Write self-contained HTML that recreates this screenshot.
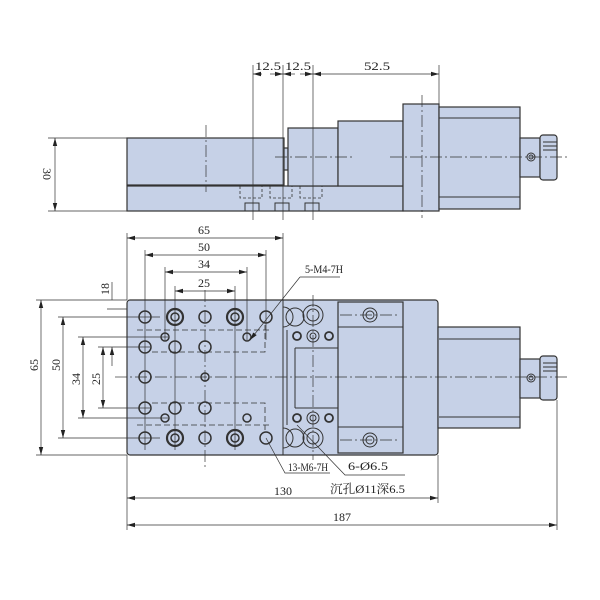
<!DOCTYPE html>
<html><head><meta charset="utf-8"><style>html,body{margin:0;padding:0;background:#fff}svg{display:block}</style></head><body>
<svg width="600" height="600" viewBox="0 0 600 600" xmlns="http://www.w3.org/2000/svg" font-family="'Liberation Serif','Noto Serif CJK SC',serif" font-size="12" fill="#222">
<defs><marker id="a" markerWidth="8" markerHeight="6" refX="8" refY="3" orient="auto-start-reverse" markerUnits="userSpaceOnUse"><path d="M0,0.8 L8,3 L0,5.2z" fill="#222"/></marker></defs>
<g stroke="#333" stroke-width="1.2" fill="#c6d1e7">
<rect x="127" y="186" width="276" height="25"/>
<rect x="127" y="138" width="157" height="47"/>
<rect x="284" y="148" width="4" height="22"/>
<rect x="288" y="128" width="50" height="58"/>
<rect x="338" y="121" width="65" height="65"/>
<rect x="403" y="104" width="36" height="107"/>
<rect x="439" y="107" width="81" height="102"/>
<rect x="520" y="138" width="20" height="39"/>
<rect x="540" y="135" width="17" height="45" rx="3"/>
<rect x="127" y="300" width="311" height="155" rx="3"/>
<rect x="438" y="327" width="82" height="101"/>
<rect x="520" y="359" width="20" height="39"/>
<rect x="540" y="356" width="17" height="44" rx="3"/>
<rect x="338" y="302" width="65" height="151"/>
</g>
<g stroke="#333" stroke-width="1" fill="none">
<line x1="439" y1="118" x2="520" y2="118"/><line x1="439" y1="197" x2="520" y2="197"/>
<line x1="543" y1="142" x2="557" y2="142"/><line x1="543" y1="146" x2="557" y2="146"/><line x1="543" y1="150" x2="557" y2="150"/>
<line x1="543" y1="363" x2="557" y2="363"/><line x1="543" y1="367" x2="557" y2="367"/><line x1="543" y1="371" x2="557" y2="371"/>
<circle cx="531" cy="157" r="4"/><circle cx="531" cy="157" r="2"/>
<circle cx="531" cy="378" r="4"/><circle cx="531" cy="378" r="2"/>
<line x1="439" y1="339" x2="520" y2="339"/><line x1="439" y1="417" x2="520" y2="417"/>
<line x1="338" y1="327" x2="403" y2="327"/><line x1="338" y1="427" x2="403" y2="427"/>
<g stroke-dasharray="3,2" stroke-width="0.8"><rect x="240" y="186" width="22" height="12"/><rect x="270" y="186" width="22" height="12"/><rect x="300" y="186" width="22" height="12"/></g>
<rect x="245" y="203" width="14" height="8"/><rect x="275" y="203" width="14" height="8"/><rect x="305" y="203" width="14" height="8"/>
<line x1="283" y1="300" x2="283" y2="455"/><line x1="287" y1="330" x2="287" y2="425"/>
<line x1="295" y1="348" x2="338" y2="348"/><line x1="295" y1="408" x2="338" y2="408"/>
<line x1="295" y1="348" x2="295" y2="408"/>
<path d="M283,307 A10,10 0 0 1 283,327"/><path d="M283,428 A10,10 0 0 1 283,448"/>
<circle cx="295" cy="317" r="9"/><circle cx="295" cy="438" r="9"/>
<circle cx="313" cy="315" r="10"/><circle cx="313" cy="315" r="6"/>
<circle cx="313" cy="336" r="6"/><circle cx="313" cy="336" r="3"/>
<circle cx="297" cy="336" r="4" stroke-width="1.8"/><circle cx="329" cy="336" r="4" stroke-width="1.8"/>
<circle cx="313" cy="418" r="6"/><circle cx="313" cy="418" r="3"/>
<circle cx="297" cy="418" r="4" stroke-width="1.8"/><circle cx="329" cy="418" r="4" stroke-width="1.8"/>
<circle cx="313" cy="438" r="10"/><circle cx="313" cy="438" r="6"/>
<circle cx="370" cy="315" r="7"/><circle cx="370" cy="315" r="4"/>
<circle cx="370" cy="440" r="7"/><circle cx="370" cy="440" r="4"/>
<g stroke-width="1.5">
<circle cx="145" cy="317" r="6"/><circle cx="205" cy="317" r="6"/><circle cx="266" cy="317" r="6"/>
<circle cx="175" cy="317" r="8" stroke-width="2.2"/><circle cx="175" cy="317" r="4"/>
<circle cx="235" cy="317" r="8" stroke-width="2.2"/><circle cx="235" cy="317" r="4"/>
<circle cx="145" cy="347" r="6"/><circle cx="175" cy="347" r="6"/><circle cx="205" cy="347" r="6"/>
<circle cx="145" cy="377" r="6"/><circle cx="205" cy="377" r="4"/>
<circle cx="145" cy="408" r="6"/><circle cx="175" cy="408" r="6"/><circle cx="205" cy="408" r="6"/>
<circle cx="145" cy="438" r="6"/><circle cx="205" cy="438" r="6"/><circle cx="266" cy="438" r="6"/>
<circle cx="175" cy="438" r="8" stroke-width="2.2"/><circle cx="175" cy="438" r="4"/>
<circle cx="235" cy="438" r="8" stroke-width="2.2"/><circle cx="235" cy="438" r="4"/>
<circle cx="165" cy="337" r="4"/><circle cx="247" cy="337" r="4"/><circle cx="165" cy="418" r="4"/><circle cx="247" cy="418" r="4"/>
</g>
<g stroke-dasharray="6,3" stroke-width="0.8">
<line x1="137" y1="330" x2="272" y2="330"/><path d="M152,352 H265 V325"/>
<line x1="137" y1="425" x2="272" y2="425"/><path d="M152,403 H265 V430"/>
</g>
</g>
<g stroke="#333" stroke-width="0.7" stroke-dasharray="12,3,2,3" fill="none">
<line x1="275" y1="157" x2="355" y2="157"/><line x1="390" y1="157" x2="570" y2="157"/>
<line x1="206" y1="125" x2="206" y2="192"/><line x1="422" y1="95" x2="422" y2="218"/>
<line x1="115" y1="377" x2="570" y2="377"/>
<line x1="313" y1="295" x2="313" y2="460"/>
<line x1="340" y1="315" x2="400" y2="315"/><line x1="340" y1="440" x2="400" y2="440"/>
<line x1="205" y1="290" x2="205" y2="470"/>
</g>
<g stroke="#333" stroke-width="0.7" fill="none">
<line x1="253" y1="65" x2="253" y2="220"/><line x1="283" y1="65" x2="283" y2="220"/><line x1="313" y1="65" x2="313" y2="220"/><line x1="439" y1="65" x2="439" y2="104"/>
<line x1="270" y1="74" x2="283" y2="74" marker-end="url(#a)"/><line x1="253" y1="74" x2="262" y2="74" marker-start="url(#a)"/>
<line x1="283" y1="74" x2="295" y2="74" marker-start="url(#a)"/><line x1="300" y1="74" x2="313" y2="74" marker-end="url(#a)"/>
<line x1="313" y1="74" x2="439" y2="74" marker-start="url(#a)" marker-end="url(#a)"/>
<line x1="48" y1="138" x2="127" y2="138"/><line x1="48" y1="211" x2="127" y2="211"/>
<line x1="55" y1="138" x2="55" y2="211" marker-start="url(#a)" marker-end="url(#a)"/>
<line x1="127" y1="233" x2="127" y2="300"/><line x1="283" y1="233" x2="283" y2="300"/>
<line x1="127" y1="238" x2="283" y2="238" marker-start="url(#a)" marker-end="url(#a)"/>
<line x1="145" y1="250" x2="145" y2="450"/><line x1="266" y1="250" x2="266" y2="340"/>
<line x1="145" y1="255" x2="266" y2="255" marker-start="url(#a)" marker-end="url(#a)"/>
<line x1="165" y1="267" x2="165" y2="340"/><line x1="247" y1="267" x2="247" y2="340"/>
<line x1="165" y1="272" x2="247" y2="272" marker-start="url(#a)" marker-end="url(#a)"/>
<line x1="175" y1="286" x2="175" y2="450"/><line x1="235" y1="286" x2="235" y2="450"/>
<line x1="175" y1="291" x2="235" y2="291" marker-start="url(#a)" marker-end="url(#a)"/>
<line x1="36" y1="300" x2="127" y2="300"/><line x1="36" y1="455" x2="127" y2="455"/>
<line x1="41" y1="300" x2="41" y2="455" marker-start="url(#a)" marker-end="url(#a)"/>
<line x1="58" y1="317" x2="160" y2="317"/><line x1="58" y1="438" x2="160" y2="438"/>
<line x1="63" y1="317" x2="63" y2="438" marker-start="url(#a)" marker-end="url(#a)"/>
<line x1="78" y1="337" x2="168" y2="337"/><line x1="78" y1="418" x2="168" y2="418"/>
<line x1="83" y1="337" x2="83" y2="418" marker-start="url(#a)" marker-end="url(#a)"/>
<line x1="98" y1="347" x2="150" y2="347"/><line x1="98" y1="408" x2="150" y2="408"/>
<line x1="103" y1="347" x2="103" y2="408" marker-start="url(#a)" marker-end="url(#a)"/>
<line x1="112" y1="282" x2="112" y2="300"/><line x1="112" y1="347" x2="112" y2="366" marker-start="url(#a)"/>
<line x1="107" y1="309" x2="127" y2="309"/>
<line x1="127" y1="455" x2="127" y2="530"/><line x1="438" y1="455" x2="438" y2="503"/><line x1="557" y1="400" x2="557" y2="530"/>
<line x1="127" y1="498" x2="438" y2="498" marker-start="url(#a)" marker-end="url(#a)"/>
<line x1="127" y1="525" x2="557" y2="525" marker-start="url(#a)" marker-end="url(#a)"/>
<line x1="340" y1="277" x2="300" y2="277"/><line x1="300" y1="277" x2="250" y2="340" marker-end="url(#a)"/>
<polyline points="266,438 285,473 330,473"/>
<polyline points="297,425 345,475 405,475"/>
</g>
<g font-size="12">
<text x="255" y="70" textLength="26" lengthAdjust="spacingAndGlyphs">12.5</text>
<text x="285" y="70" textLength="26" lengthAdjust="spacingAndGlyphs">12.5</text>
<text x="364" y="70" textLength="26" lengthAdjust="spacingAndGlyphs">52.5</text>
<text transform="translate(43,168) rotate(90)">30</text>
<text x="198" y="234">65</text><text x="198" y="251">50</text><text x="198" y="268">34</text><text x="198" y="287">25</text>
<text transform="translate(38,371) rotate(-90)">65</text>
<text transform="translate(60,371) rotate(-90)">50</text>
<text transform="translate(80,385) rotate(-90)">34</text>
<text transform="translate(100,385) rotate(-90)">25</text>
<text transform="translate(109,295) rotate(-90)">18</text>
<text x="305" y="273" textLength="38" lengthAdjust="spacingAndGlyphs">5-M4-7H</text>
<text x="288" y="471" textLength="40" lengthAdjust="spacingAndGlyphs">13-M6-7H</text>
<text x="348" y="470" textLength="40" lengthAdjust="spacingAndGlyphs">6-Ø6.5</text>
<text x="330" y="493" textLength="75" lengthAdjust="spacingAndGlyphs">沉孔Ø11深6.5</text>
<text x="274" y="495">130</text>
<text x="333" y="521">187</text>
</g>
</svg>
</body></html>
